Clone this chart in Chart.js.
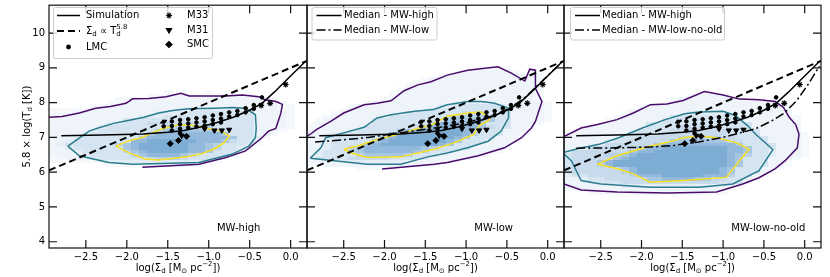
<!DOCTYPE html>
<html>
<head>
<meta charset="utf-8">
<script src="https://cdn.jsdelivr.net/npm/chart.js@4/dist/chart.umd.min.js"></script>
<style>
  body { margin: 0; background: #fff; }
  #wrap { position: relative; width: 830px; height: 277px; }
  #wrap canvas { position: absolute; left: 0; top: 0; }
</style>
</head>
<body>
<div id="wrap">
  <canvas id="c1" width="830" height="277"></canvas>
  <canvas id="c2" width="830" height="277"></canvas>
  <canvas id="c3" width="830" height="277"></canvas>
</div>
<script>
// axes
const xTicks = [-2.5, -2.0, -1.5, -1.0, -0.5, 0.0];
const yTicks = [4, 5, 6, 7, 8, 9, 10];
const xRange = [-2.95, 0.2];
const yRange = [3.82, 10.8];
const panelNames = ['MW-high', 'MW-low', 'MW-low-no-old'];

// Sigma_d ∝ T_d^5.8
const powerLawX = [-2.95, 0.2];
const powerLawY = [6.05, 9.2];

// medians
const medianHighX = [-2.8, -2.3, -1.8, -1.5, -1.3, -1.1, -0.9, -0.7, -0.5, -0.35, -0.2, -0.05, 0.18];
const medianHighY = [7.05, 7.07, 7.10, 7.15, 7.20, 7.30, 7.43, 7.58, 7.78, 7.98, 8.30, 8.65, 9.18];
const medianLowX = [-2.85, -2.5, -2.2, -1.9, -1.6, -1.3, -1.0, -0.7, -0.5, -0.3, -0.1, 0.18];
const medianLowY = [6.87, 6.93, 7.00, 7.10, 7.20, 7.30, 7.42, 7.60, 7.80, 8.10, 8.55, 9.18];
const medianNoOldX = [-2.8, -2.3, -1.9, -1.6, -1.3, -1.0, -0.6, -0.4, -0.25, -0.1, 0.05, 0.18];
const medianNoOldY = [6.69, 6.70, 6.72, 6.77, 6.87, 7.00, 7.25, 7.48, 7.70, 8.05, 8.55, 9.05];

// observations
const lmcX = [-1.55, -1.55, -1.45, -1.45, -1.45, -1.35, -1.35, -1.35, -1.35, -1.25, -1.25, -1.25, -1.15, -1.15, -1.15,
  -1.05, -1.05, -1.05, -0.95, -0.95, -0.95, -0.85, -0.85, -0.85, -0.75, -0.75, -0.65, -0.65,
  -0.55, -0.55, -0.45, -0.45, -0.35];
const lmcY = [7.45, 7.32, 7.46, 7.33, 7.20, 7.50, 7.38, 7.25, 7.12, 7.52, 7.40, 7.28, 7.55, 7.43, 7.31,
  7.58, 7.46, 7.34, 7.63, 7.50, 7.38, 7.67, 7.54, 7.43, 7.72, 7.60, 7.76, 7.64,
  7.84, 7.72, 7.93, 7.82, 8.15];
const m33X = [-0.36, -0.25, -0.06];
const m33Y = [7.92, 7.98, 8.52];
const m31X = [-1.33, -1.05, -0.93, -0.84, -0.75];
const m31Y = [7.05, 7.25, 7.20, 7.20, 7.22];
const smcX = [-1.47, -1.37, -1.27];
const smcY = [6.82, 6.91, 7.03];

// contours [x, y]
const purpleHigh = [[-1.81,6.14],[-1.12,6.23],[-0.79,6.42],[-0.55,6.61],[-0.35,6.99],[-0.27,7.18],[-0.18,7.26],
  [-0.12,7.69],[-0.10,7.95],[-0.18,8.03],[-0.31,8.08],[-0.39,8.17],[-0.59,8.22],[-0.79,8.19],[-1.04,8.19],
  [-1.24,8.19],[-1.34,8.27],[-1.52,8.17],[-1.73,8.12],[-1.93,8.11],[-2.01,7.98],[-2.20,7.89],[-2.38,7.84],
  [-2.58,7.70],[-2.79,7.60],[-2.96,7.58]];
const tealHigh = [[-2.72,6.75],[-2.58,6.98],[-2.46,7.18],[-2.35,7.27],[-2.15,7.41],[-1.97,7.49],[-1.79,7.58],
  [-1.61,7.70],[-1.42,7.78],[-1.24,7.82],[-0.92,7.84],[-0.71,7.86],[-0.55,7.84],[-0.43,7.65],[-0.42,7.27],
  [-0.43,6.99],[-0.51,6.75],[-0.71,6.52],[-1.12,6.28],[-1.93,6.23],[-2.22,6.28],[-2.58,6.47],[-2.72,6.75]];
const yellowHigh = [[-2.13,6.75],[-1.98,6.90],[-1.82,6.99],[-1.67,7.15],[-1.55,7.26],[-1.36,7.36],[-1.18,7.34],
  [-1.02,7.26],[-0.85,7.18],[-0.75,7.04],[-0.81,6.85],[-0.94,6.66],[-1.10,6.52],[-1.27,6.44],[-1.42,6.40],
  [-1.62,6.35],[-1.78,6.38],[-1.98,6.56],[-2.13,6.75]];

const purpleLow = [[-2.99,6.97],[-2.91,7.09],[-2.83,7.23],[-2.66,7.46],[-2.50,7.70],[-2.25,7.94],[-2.09,7.98],
  [-1.92,8.05],[-1.76,8.34],[-1.59,8.51],[-1.43,8.60],[-1.23,8.79],[-0.98,8.93],[-0.61,9.03],[-0.44,8.84],
  [-0.28,8.62],[-0.22,8.96],[-0.15,8.93],[-0.15,8.41],[-0.07,8.03],[-0.11,7.75],[-0.15,7.46],[-0.20,7.27],
  [-0.32,6.99],[-0.53,6.70],[-0.85,6.47],[-1.23,6.28],[-1.39,6.23],[-2.03,6.09]];
const tealLow = [[-2.91,6.40],[-2.78,6.70],[-2.72,6.99],[-2.50,7.13],[-2.25,7.29],[-2.09,7.56],[-1.92,7.65],
  [-1.63,7.75],[-1.40,7.80],[-1.23,7.94],[-0.98,8.03],[-0.81,8.03],[-0.65,7.98],[-0.48,7.84],[-0.48,7.56],
  [-0.57,7.18],[-0.73,6.89],[-0.98,6.70],[-1.23,6.55],[-1.47,6.44],[-1.80,6.23],[-2.21,6.23],[-2.79,6.37],[-2.91,6.40]];
const yellowLow = [[-2.50,6.66],[-2.33,6.75],[-2.09,6.94],[-1.92,7.04],[-1.76,7.13],[-1.59,7.26],[-1.43,7.35],
  [-1.23,7.61],[-0.98,7.70],[-0.81,7.73],[-0.71,7.51],[-0.85,7.32],[-0.90,7.09],[-1.14,6.85],[-1.39,6.66],
  [-1.80,6.44],[-2.21,6.42],[-2.42,6.56],[-2.50,6.66]];

const purpleNoOld = [[-2.95,7.02],[-2.74,7.27],[-2.54,7.37],[-2.30,7.51],[-2.10,7.70],[-1.89,7.94],[-1.69,7.96],
  [-1.49,8.06],[-1.23,8.32],[-1.00,8.22],[-0.80,8.10],[-0.56,8.08],[-0.36,8.03],[-0.26,7.86],[-0.19,7.58],
  [-0.11,7.37],[-0.07,7.09],[-0.09,6.70],[-0.24,6.33],[-0.36,6.10],[-0.56,5.84],[-0.76,5.66],[-1.08,5.43],
  [-1.69,5.40],[-2.30,5.43],[-2.74,5.49],[-2.95,5.66]];
const tealNoOld = [[-2.95,6.57],[-2.76,6.69],[-2.52,6.80],[-2.28,6.99],[-1.99,7.27],[-1.71,7.51],[-1.47,7.68],
  [-1.29,7.73],[-1.00,7.75],[-0.85,7.63],[-0.70,7.34],[-0.60,7.09],[-0.39,6.65],[-0.56,6.04],[-0.88,5.66],
  [-1.29,5.57],[-1.89,5.57],[-2.50,5.66],[-2.74,5.76],[-2.86,6.33],[-2.95,6.52]];
const yellowNoOld = [[-2.54,6.23],[-2.30,6.47],[-1.89,6.75],[-1.69,6.85],[-1.49,6.99],[-1.29,7.04],[-1.08,6.99],
  [-0.84,6.85],[-0.68,6.66],[-0.80,6.33],[-0.96,5.85],[-1.49,5.76],[-1.89,5.71],[-2.10,5.95],[-2.28,6.09],[-2.54,6.23]];

// 2d histogram density, columns x = -2.9 .. 0.1 step 0.1, rows from top value down by 0.1
const histX0 = -2.9;
const histHighTop = 8.3;
const histHigh = [
  "0000000000000010100100000000000",
  "0000000000001122221112211000000",
  "0000000011222222222222222211000",
  "0000000112222222222222222222100",
  "0000011222222222222222222222110",
  "1111122222222222333333333222110",
  "1112222222222333344444444222210",
  "1122222222233344444444444222210",
  "2222222224444444444444444222210",
  "2222222344445555555554444222210",
  "2222223444444466666644444222210",
  "2222234444444677777764444222100",
  "2222344444447888888887444221000",
  "2223444444478888888888744310000",
  "2234444444889999998887544200000",
  "2344444467899999988764443100000",
  "2234444447899999988764431000000",
  "2223444446789999988744420000000",
  "2222344444678888764444200000000",
  "1122234444445666544441000000000",
  "1111112333333333333210000000000",
  "0000000111112222221000000000000"
];
const histLowTop = 9.0;
const histLow = [
  "0000000000000000000001111000000",
  "0000000000000000001222222101000",
  "0000000000000000122222222212100",
  "0000000000000012222222222212100",
  "0000000000000122222222222222100",
  "0000000000001222222222222222100",
  "0000000000012222222222222222100",
  "0000000000122222222222222222100",
  "0000000000122222222222222222100",
  "0000000001222222222222222222100",
  "0000000122222222222333222222210",
  "0000012222222222334444443222210",
  "0000122222222224444444444222210",
  "0001222222224444444555444222210",
  "0012222222444444466666644222210",
  "0122222244444444477777744222210",
  "1222222244444447888887444222100",
  "1122222444444578888887544221000",
  "2222234444478999999874442221000",
  "2223444444899999999864442210000",
  "2234444447899999998744422200000",
  "2234444478999999987444222100000",
  "2234444789999999874442222000000",
  "2234467888888876444422221000000",
  "2344467888888764442222210000000",
  "2344446777776444222222000000000",
  "2444455555444432222210000000000",
  "2222333333332222210000000000000",
  "1122222222222211000000000000000",
  "0000001111100000000000000000000"
];
const histNoOldTop = 8.3;
const histNoOld = [
  "0000000000000000110000000000000",
  "0000000000000001222100000000000",
  "0000000000000122222221000000000",
  "0000000000001222222222222210000",
  "0000000001222222222222222220000",
  "0000000012222222222222222221000",
  "0000000122222223333322222221000",
  "0000001222222444444442222222100",
  "0000012222224444444444222222100",
  "0000122222444444444444422222200",
  "0012222222444455555444422222200",
  "0122222224444555555544442222200",
  "1222222244445555555544442222210",
  "2222222445555566666554444222210",
  "2222234455555777777755444222210",
  "2222355555578888888887444422210",
  "2235555557889999999988744422210",
  "3555555578899999999988744322210",
  "4555566789999999999987644322210",
  "4555557899999999999987444222100",
  "4555789999999999999987444221000",
  "4555689999999999999987444221000",
  "4555555789999999999874442210000",
  "4555555689999999999874442100000",
  "3445555568889999988864421000000",
  "2234455555778888775544210000000",
  "2223444555555555555444100000000",
  "2222222333333333332221000000000",
  "1122222222222222222110000000000",
  "0001111111111111111100000000000"
];

const FONT = '"DejaVu Sans", sans-serif';
const heatAlpha = [0, 0.04, 0.08, 0.13, 0.19, 0.25, 0.32, 0.40, 0.49, 0.58];
const PURPLE = '#4a0c6b', TEAL = '#2a7d8e', YELLOW = '#f7df22';

const pts = (xs, ys) => xs.map((x, i) => ({ x: x, y: ys[i] }));
const pairs = (arr) => arr.map(p => ({ x: p[0], y: p[1] }));
const fmt = (v) => v.toFixed(1).replace('-', '\u2212');

// text with sub/superscripts: parts = [text, mode]
function drawRich(ctx, parts, x, y, align) {
  const big = '10px ' + FONT, small = '7px ' + FONT;
  const widths = parts.map(([t, m]) => {
    ctx.font = m === 'n' ? big : small;
    if (m === 'bp') return Math.max(...t.split('|').map(s => ctx.measureText(s).width));
    return ctx.measureText(t).width;
  });
  const total = widths.reduce((a, b) => a + b, 0);
  let cx = align === 'center' ? x - total / 2 : x;
  ctx.textAlign = 'left';
  ctx.textBaseline = 'middle';
  parts.forEach(([t, m], i) => {
    ctx.font = m === 'n' ? big : small;
    if (m === 'n') ctx.fillText(t, cx, y);
    else if (m === 'b') ctx.fillText(t, cx, y + 3);
    else if (m === 'p') ctx.fillText(t, cx, y - 4);
    else { const s = t.split('|'); ctx.fillText(s[0], cx, y + 3); ctx.fillText(s[1], cx, y - 4); }
    cx += widths[i];
  });
}

function legendLine(ctx, x0, x1, y, dash, lw) {
  ctx.save();
  ctx.strokeStyle = '#000';
  ctx.lineWidth = lw;
  ctx.setLineDash(dash);
  ctx.beginPath(); ctx.moveTo(x0, y); ctx.lineTo(x1, y); ctx.stroke();
  ctx.restore();
}
function legendMarker(ctx, style, r, rot, x, y) {
  ctx.save();
  ctx.fillStyle = '#000'; ctx.strokeStyle = '#000';
  Chart.helpers.drawPoint(ctx, { pointStyle: style, radius: r, rotation: rot, borderWidth: 1 }, x, y);
  ctx.restore();
}
function legendBox(ctx, x0, y0, x1, y1) {
  ctx.save();
  ctx.fillStyle = 'rgba(255,255,255,0.8)';
  ctx.strokeStyle = '#cccccc';
  ctx.lineWidth = 1;
  ctx.beginPath();
  ctx.roundRect(x0 + 0.5, y0 + 0.5, x1 - x0, y1 - y0, 2);
  ctx.fill(); ctx.stroke();
  ctx.restore();
}

const DASH = [7, 4], DASHDOT = [9, 3, 2, 3];

const legends = [
  function (ctx) {
    legendBox(ctx, 53, 7, 212, 58);
    ctx.fillStyle = '#000';
    legendLine(ctx, 57, 80, 15.5, [], 1.5);
    drawRich(ctx, [['Simulation', 'n']], 86, 15.5, 'left');
    legendLine(ctx, 57, 80, 31, DASH, 2);
    drawRich(ctx, [['\u03A3', 'n'], ['d', 'b'], [' \u221D T', 'n'], ['d|5.8', 'bp']], 86, 31, 'left');
    legendMarker(ctx, 'circle', 1.8, 0, 68.5, 47);
    drawRich(ctx, [['LMC', 'n']], 86, 47, 'left');
    legendMarker(ctx, 'star', 3, 0, 169, 15.5);
    drawRich(ctx, [['M33', 'n']], 187, 15.5, 'left');
    legendMarker(ctx, 'triangle', 3, 180, 169, 30);
    drawRich(ctx, [['M31', 'n']], 187, 30, 'left');
    legendMarker(ctx, 'rectRot', 3, 0, 169, 44.5);
    drawRich(ctx, [['SMC', 'n']], 187, 44.5, 'left');
  },
  function (ctx) {
    legendBox(ctx, 311.5, 7, 436.5, 39.5);
    ctx.fillStyle = '#000';
    legendLine(ctx, 316.5, 341.5, 15.5, [], 1.5);
    drawRich(ctx, [['Median - MW-high', 'n']], 344, 15.5, 'left');
    legendLine(ctx, 316.5, 341.5, 30, DASHDOT, 1.5);
    drawRich(ctx, [['Median - MW-low', 'n']], 344, 30, 'left');
  },
  function (ctx) {
    legendBox(ctx, 570, 7, 724, 39.5);
    ctx.fillStyle = '#000';
    legendLine(ctx, 575, 600, 15.5, [], 1.5);
    drawRich(ctx, [['Median - MW-high', 'n']], 602, 15.5, 'left');
    legendLine(ctx, 575, 600, 30, DASHDOT, 1.5);
    drawRich(ctx, [['Median - MW-low-no-old', 'n']], 602, 30, 'left');
  }
];

const panels = [
  { id: 'c1', left: 49, right: 307, hist: histHigh, histTop: histHighTop,
    purple: purpleHigh, teal: tealHigh, yellow: yellowHigh, second: null, yLabels: true },
  { id: 'c2', left: 307, right: 564, hist: histLow, histTop: histLowTop,
    purple: purpleLow, teal: tealLow, yellow: yellowLow, second: pts(medianLowX, medianLowY), yLabels: false },
  { id: 'c3', left: 564, right: 821, hist: histNoOld, histTop: histNoOldTop,
    purple: purpleNoOld, teal: tealNoOld, yellow: yellowNoOld, second: pts(medianNoOldX, medianNoOldY), yLabels: false }
];

function panelPlugin(p, k) {
  return {
    id: 'panel' + k,
    beforeDatasetsDraw(chart) {
      const { ctx, chartArea: a, scales: { x, y } } = chart;
      ctx.save();
      ctx.beginPath();
      ctx.rect(a.left, a.top, a.right - a.left, a.bottom - a.top);
      ctx.clip();
      p.hist.forEach((row, r) => {
        const yc = p.histTop - 0.1 * r;
        for (let c = 0; c < row.length; c++) {
          const lv = +row[c];
          if (!lv) continue;
          const xc = histX0 + 0.1 * c;
          const x0 = Math.round(x.getPixelForValue(xc - 0.05));
          const x1 = Math.round(x.getPixelForValue(xc + 0.05));
          const y0 = Math.round(y.getPixelForValue(yc + 0.05));
          const y1 = Math.round(y.getPixelForValue(yc - 0.05));
          ctx.fillStyle = 'rgba(33,113,181,' + heatAlpha[lv] + ')';
          ctx.fillRect(x0, y0, x1 - x0, y1 - y0);
        }
      });
      ctx.restore();
    },
    afterDraw(chart) {
      const { ctx, chartArea: a, scales: { x, y } } = chart;
      ctx.save();
      ctx.strokeStyle = '#111';
      ctx.lineWidth = 1.2;
      ctx.strokeRect(a.left, a.top, a.right - a.left, a.bottom - a.top);
      ctx.beginPath();
      xTicks.forEach(v => {
        const px = x.getPixelForValue(v);
        ctx.moveTo(px, a.bottom); ctx.lineTo(px, a.bottom - 8);
        ctx.moveTo(px, a.top); ctx.lineTo(px, a.top + 8);
      });
      yTicks.forEach(v => {
        const py = y.getPixelForValue(v);
        ctx.moveTo(a.left, py); ctx.lineTo(a.left + 8, py);
        ctx.moveTo(a.right, py); ctx.lineTo(a.right - 8, py);
      });
      ctx.stroke();

      ctx.fillStyle = '#000';
      ctx.font = '10px ' + FONT;
      ctx.textAlign = 'center';
      ctx.textBaseline = 'top';
      xTicks.forEach(v => ctx.fillText(fmt(v), x.getPixelForValue(v), a.bottom + 4));
      if (p.yLabels) {
        ctx.textAlign = 'right';
        ctx.textBaseline = 'middle';
        yTicks.forEach(v => ctx.fillText(String(v), a.left - 4, y.getPixelForValue(v)));
        ctx.save();
        ctx.translate(27, (a.top + a.bottom) / 2);
        ctx.rotate(-Math.PI / 2);
        drawRich(ctx, [['5.8 \u00D7 log(T', 'n'], ['d', 'b'], [' [K])', 'n']], 0, 0, 'center');
        ctx.restore();
      }
      drawRich(ctx, [['log(\u03A3', 'n'], ['d', 'b'], [' [M', 'n'], ['\u2299', 'b'], [' pc', 'n'], ['\u22122', 'p'], ['])', 'n']],
        (a.left + a.right) / 2, 268, 'center');
      ctx.font = '10px ' + FONT;
      ctx.textAlign = 'left';
      ctx.textBaseline = 'middle';
      ctx.fillText(panelNames[k], x.getPixelForValue(-0.9), 228);
      legends[k](ctx);
      ctx.restore();
    }
  };
}

panels.forEach((p, k) => {
  const datasets = [
    { data: pts(lmcX, lmcY), pointStyle: 'circle', pointRadius: 1.8, backgroundColor: '#000', borderColor: '#000', order: 1 },
    { data: pts(m33X, m33Y), pointStyle: 'star', pointRadius: 3, borderWidth: 1.2, backgroundColor: '#000', borderColor: '#000', order: 1 },
    { data: pts(m31X, m31Y), pointStyle: 'triangle', rotation: 180, pointRadius: 3, backgroundColor: '#000', borderColor: '#000', order: 1 },
    { data: pts(smcX, smcY), pointStyle: 'rectRot', pointRadius: 3, backgroundColor: '#000', borderColor: '#000', order: 1 },
    { data: pts(medianHighX, medianHighY), showLine: true, pointRadius: 0, borderColor: '#000', borderWidth: 1.5, order: 2 },
    { data: pts(powerLawX, powerLawY), showLine: true, pointRadius: 0, borderColor: '#000', borderWidth: 2, borderDash: DASH, order: 2 },
    { data: pairs(p.yellow), showLine: true, pointRadius: 0, borderColor: YELLOW, borderWidth: 1.5, order: 3 },
    { data: pairs(p.teal), showLine: true, pointRadius: 0, borderColor: TEAL, borderWidth: 1.5, order: 3 },
    { data: pairs(p.purple), showLine: true, pointRadius: 0, borderColor: PURPLE, borderWidth: 1.5, order: 3 }
  ];
  if (p.second) {
    datasets.push({ data: p.second, showLine: true, pointRadius: 0, borderColor: '#000', borderWidth: 1.5, borderDash: DASHDOT, order: 2 });
  }
  new Chart(document.getElementById(p.id), {
    type: 'scatter',
    data: { datasets: datasets },
    options: {
      responsive: false,
      animation: false,
      devicePixelRatio: 1,
      events: [],
      layout: { padding: { left: p.left, right: 830 - p.right, top: 3, bottom: 29 } },
      scales: {
        x: { type: 'linear', min: xRange[0], max: xRange[1], display: false },
        y: { type: 'linear', min: yRange[0], max: yRange[1], display: false }
      },
      plugins: { legend: { display: false }, tooltip: { enabled: false } }
    },
    plugins: [panelPlugin(p, k)]
  });
});
</script>
</body>
</html>
